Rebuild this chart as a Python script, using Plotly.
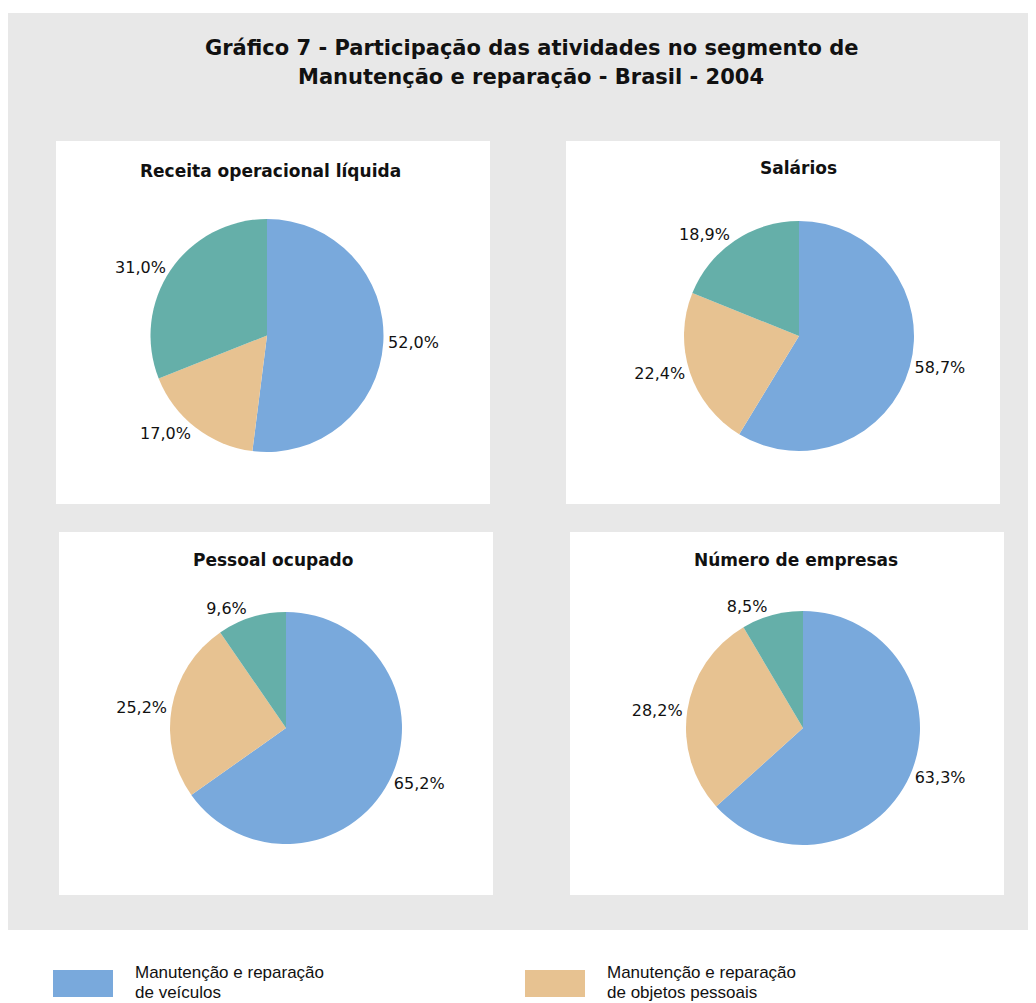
import plotly.graph_objects as go

# page has an 8px body margin: figure spans screen px 8..1036 x 8..1003
OFF = 8
W, H = 1036 - OFF, 1003 - OFF

categories = ["Manutenção e reparação de veículos",
              "Manutenção e reparação de objetos pessoais",
              "Outras atividades"]
legend_lines = [["Manutenção e reparação", "de veículos"],
                ["Manutenção e reparação", "de objetos pessoais"]]
colors = ["#79A9DC", "#E7C291", "#65AFA9"]

panel_titles = ["Receita operacional líquida", "Salários",
                "Pessoal ocupado", "Número de empresas"]
receita = [52.0, 17.0, 31.0]
salarios = [58.7, 22.4, 18.9]
pessoal = [65.2, 25.2, 9.6]
empresas = [63.3, 28.2, 8.5]
series = [receita, salarios, pessoal, empresas]

# layout geometry (screen pixels)
panels = [(56, 141, 490, 504), (566, 141, 1000, 504),
          (59, 532, 493, 895), (570, 532, 1004, 895)]
pie_geo = [(267, 335.5, 116.5), (799, 336, 115), (286, 728, 116), (803, 728, 117)]
title_y = [171, 168, 560, 560]
title_x = [270, 798, 273, 796]

TITLE_FONT = "DejaVu Sans, Verdana, sans-serif"


def px(x):
    return (x - OFF) / W


def py(y):
    return 1 - (y - OFF) / H


fig = go.Figure()
shapes = [dict(type="rect", xref="paper", yref="paper", x0=px(8), x1=px(1036),
               y0=py(930), y1=py(13), fillcolor="#E8E8E8", line_width=0, layer="below")]
annotations = []
for k, line in enumerate(["Gráfico 7 - Participação das atividades no segmento de",
                          "Manutenção e reparação - Brasil - 2004"]):
    annotations.append(dict(text=f"<b>{line}</b>", x=px(531), y=py(48 + 29 * k),
                            xref="paper", yref="paper", showarrow=False,
                            font=dict(size=21, color="#111111", family=TITLE_FONT),
                            xanchor="center", yanchor="middle"))

for i, vals in enumerate(series):
    x0, y0, x1, y1 = panels[i]
    shapes.append(dict(type="rect", xref="paper", yref="paper", x0=px(x0), x1=px(x1),
                       y0=py(y1), y1=py(y0), fillcolor="white", line_width=0, layer="below"))
    cx, cy, r = pie_geo[i]
    fig.add_trace(go.Pie(
        labels=categories, values=vals,
        text=[f"{v:.1f}".replace(".", ",") + "%" for v in vals],
        textinfo="text", textposition="outside",
        outsidetextfont=dict(size=16, color="#111111", family=TITLE_FONT),
        marker=dict(colors=colors, line=dict(width=0)),
        sort=False, direction="clockwise", rotation=0,
        domain=dict(x=[px(cx - r), px(cx + r)], y=[py(cy + r), py(cy - r)]),
        hoverinfo="skip", showlegend=False,
    ))
    annotations.append(dict(text=f"<b>{panel_titles[i]}</b>", x=px(title_x[i]), y=py(title_y[i]),
                            xref="paper", yref="paper", showarrow=False,
                            font=dict(size=17, color="#111111", family=TITLE_FONT),
                            xanchor="center", yanchor="middle"))

# legend drawn manually
leg_x = [53, 525]
for j, lines in enumerate(legend_lines):
    shapes.append(dict(type="rect", xref="paper", yref="paper", x0=px(leg_x[j]), x1=px(leg_x[j] + 60),
                       y0=py(997), y1=py(970), fillcolor=colors[j], line_width=0))
    for k, lab in enumerate(lines):
        annotations.append(dict(text=lab, x=px(leg_x[j] + 80), y=py(972 + 20 * k), xref="paper", yref="paper",
                                showarrow=False, align="left", xanchor="left", yanchor="middle",
                                font=dict(size=17, color="#111111",
                                          family="Liberation Sans, Arial, sans-serif")))

fig.update_layout(width=W, height=H, margin=dict(l=0, r=0, t=0, b=0),
                  paper_bgcolor="white", plot_bgcolor="white",
                  shapes=shapes, annotations=annotations)

fig.write_html("out.html")
